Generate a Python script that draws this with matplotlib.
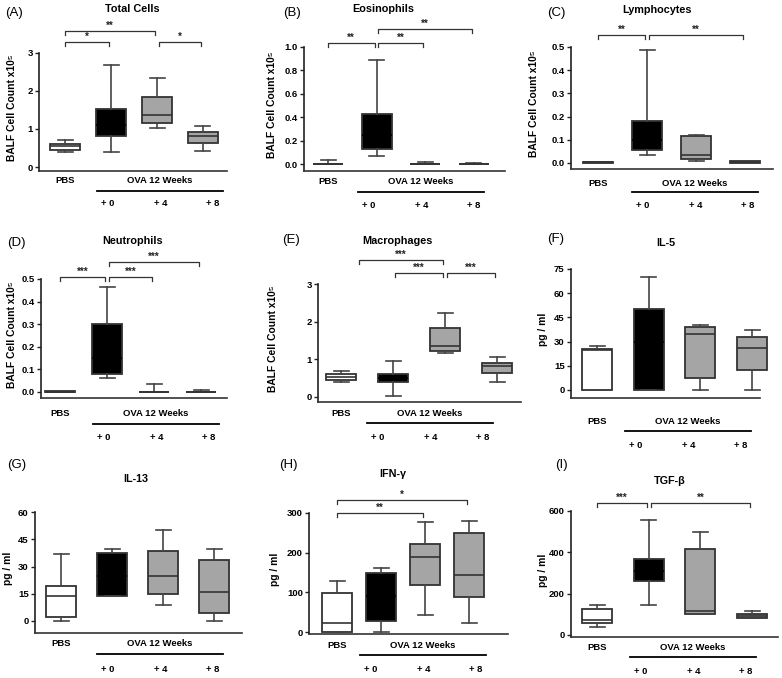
import matplotlib
matplotlib.use('Agg')
import matplotlib.pyplot as plt
from matplotlib.lines import Line2D
from matplotlib.transforms import blended_transform_factory

plt.rcParams['font.family'] = ['Liberation Sans', 'DejaVu Sans']

W, H = 782, 678

# ---------------- data ----------------
groups = ['PBS', '+ 0', '+ 4', '+ 8']
group_label = 'OVA 12 Weeks'
fills = ['white', 'black', '#a5a5a5', '#a5a5a5']

# each box: whislo, q1, median, q3, whishi
total_cells = [[0.40, 0.46, 0.54, 0.61, 0.70], [0.39, 0.81, 1.10, 1.53, 2.68],
               [1.02, 1.16, 1.36, 1.85, 2.34], [0.42, 0.64, 0.82, 0.92, 1.08]]
eosinophils = [[0, 0, 0, 0, 0.03], [0.07, 0.13, 0.25, 0.43, 0.89],
               [0, 0, 0, 0, 0.017], [0, 0, 0, 0, 0.008]]
lymphocytes = [[0.001, 0.002, 0.004, 0.006, 0.006], [0.033, 0.057, 0.10, 0.179, 0.489],
               [0.009, 0.017, 0.034, 0.117, 0.119], [0.001, 0.002, 0.004, 0.008, 0.009]]
neutrophils = [[0, 0, 0.001, 0.003, 0.004], [0.062, 0.081, 0.15, 0.30, 0.465],
               [0, 0, 0, 0, 0.037], [0, 0, 0, 0, 0.007]]
macrophages = [[0.39, 0.45, 0.53, 0.60, 0.68], [0.035, 0.41, 0.50, 0.60, 0.96],
               [1.16, 1.23, 1.36, 1.82, 2.24], [0.41, 0.63, 0.81, 0.91, 1.06]]
il5 = [[0, 0, 25, 25.5, 27], [0, 0, 30, 50, 70],
       [0, 7.7, 34.6, 39.3, 40.4], [0, 12.5, 26, 33, 37]]
il13 = [[0, 2, 13.8, 19, 37], [13.8, 13.8, 25, 37.6, 39.9],
        [9, 14.6, 24.9, 38.4, 50.2], [0, 4.4, 16, 33.4, 39.9]]
ifng = [[0, 0, 21.7, 99.4, 129.5], [0, 26.7, 90, 148.7, 161],
        [42.6, 117.8, 188.8, 223, 277], [23.4, 88.6, 142.9, 249, 279]]
tgfb = [[38.7, 56, 74, 124, 143.5], [147, 261, 310, 369, 556],
        [103, 103, 114.5, 414, 497], [84, 84, 93, 103, 114]]

# significance brackets: (group i, group j, level, stars)
sig_a = [(0, 1, 3.29, '*'), (0, 2, 3.58, '**'), (2, 3, 3.29, '*')]
sig_b = [(0, 1, 1.03, '**'), (1, 2, 1.03, '**'), (1, 3, 1.15, '**')]
sig_c = [(0, 1, 0.552, '**'), (1, 3, 0.552, '**')]
sig_d = [(0, 1, 0.509, '***'), (1, 2, 0.509, '***'), (1, 3, 0.575, '***')]
sig_e = [(0.3, 2, 3.64, '***'), (1, 2, 3.29, '***'), (2, 3, 3.29, '***')]
sig_h = [(0, 2, 300, '**'), (0, 3, 333, '*')]
sig_i = [(0, 1, 639, '***'), (1, 3, 639, '**')]

cell_label = 'BALF Cell Count x10\u2075'
cyto_label = 'pg / ml'

# layout (pixels): left, right, top px, top value, zero px, axis px, first box px, spacing px
panels = [
    dict(letter='(A)', lx=5, ly=13, title='Total Cells', tx=132, ty=9, ylabel=cell_label, ylx=12,
         data=total_cells, ticks=[0, 1, 2, 3], fmt='{:.0f}', sig=sig_a,
         geo=(39, 227, 53, 3, 167, 171, 65, 46), off=(10, 20, 33), line0=97),
    dict(letter='(B)', lx=283, ly=13, title='Eosinophils', tx=383, ty=9, ylabel=cell_label, ylx=272,
         data=eosinophils, ticks=[0, 0.2, 0.4, 0.6, 0.8, 1.0], fmt='{:.1f}', sig=sig_b,
         geo=(304, 505, 47, 1.0, 164, 171, 328, 48.5), off=(11, 21, 34), line0=358),
    dict(letter='(C)', lx=547, ly=13, title='Lymphocytes', tx=657, ty=10, ylabel=cell_label, ylx=534,
         data=lymphocytes, ticks=[0, 0.1, 0.2, 0.3, 0.4, 0.5], fmt='{:.1f}', sig=sig_c,
         geo=(571, 773, 47, 0.5, 163, 169, 598, 49), off=(14, 23, 36), line0=632),
    dict(letter='(D)', lx=7, ly=243, title='Neutrophils', tx=133, ty=241, ylabel=cell_label, ylx=12,
         data=neutrophils, ticks=[0, 0.1, 0.2, 0.3, 0.4, 0.5], fmt='{:.1f}', sig=sig_d,
         geo=(41, 227, 279, 0.5, 392, 398, 60, 47), off=(15, 26, 39), line0=93),
    dict(letter='(E)', lx=282, ly=240, title='Macrophages', tx=397, ty=241, ylabel=cell_label, ylx=273,
         data=macrophages, ticks=[0, 1, 2, 3], fmt='{:.0f}', sig=sig_e,
         geo=(318, 521, 284, 3, 397, 402, 341, 52), off=(11, 21, 35), line0=367),
    dict(letter='(F)', lx=547, ly=239, title='IL-5', tx=666, ty=243, ylabel=cyto_label, ylx=543,
         data=il5, ticks=[0, 15, 30, 45, 60, 75], fmt='{:.0f}', sig=[],
         geo=(571, 760, 269, 75, 390, 398, 597, 51.7), off=(24, 33, 47), line0=625),
    dict(letter='(G)', lx=7, ly=465, title='IL-13', tx=136, ty=479, ylabel=cyto_label, ylx=8,
         data=il13, ticks=[0, 15, 30, 45, 60], fmt='{:.0f}', sig=[],
         geo=(35, 242, 512, 60, 621, 633, 61, 51), off=(11, 21, 36), line0=97),
    dict(letter='(H)', lx=279, ly=465, title='IFN-\u03b3', tx=393, ty=474, ylabel=cyto_label, ylx=275,
         data=ifng, ticks=[0, 100, 200, 300], fmt='{:.0f}', sig=sig_h,
         geo=(309, 508, 513, 300, 632, 634, 337, 44), off=(11, 21, 35), line0=360),
    dict(letter='(I)', lx=555, ly=465, title='TGF-\u03b2', tx=670, ty=481, ylabel=cyto_label, ylx=543,
         data=tgfb, ticks=[0, 200, 400, 600], fmt='{:.0f}', sig=sig_i,
         geo=(571, 778, 511, 600, 635, 637, 597, 51.7), off=(10, 20, 34), line0=630),
]

fig = plt.figure(figsize=(W / 100, H / 100), dpi=100)
fig.patch.set_facecolor('white')


def fx(x):
    return x / W


def fy(y):
    return 1 - y / H


EDGE = '#333333'
for p in panels:
    left, right, top, topval, zero, axis, c0, s = p['geo']
    scale = (zero - top) / topval  # px per unit
    ybot = -(axis - zero) / scale
    ax = fig.add_axes([fx(left), fy(axis), (right - left) / W, (axis - top) / H])
    ax.set_xlim((left - c0) / s, (right - c0) / s)
    ax.set_ylim(ybot, topval)
    stats = []
    for g, (lo, q1, med, q3, hi) in zip(groups, p['data']):
        stats.append(dict(label=g, whislo=lo, q1=q1, med=med, q3=q3, whishi=hi, fliers=[]))
    res = ax.bxp(stats, positions=range(len(groups)), widths=30 / s, capwidths=15 / s,
                 patch_artist=True, showfliers=False,
                 boxprops=dict(edgecolor=EDGE, linewidth=1.3),
                 whiskerprops=dict(color='#444444', linewidth=1.2),
                 capprops=dict(color='#444444', linewidth=1.2),
                 medianprops=dict(color=EDGE, linewidth=1.2))
    for patch, c in zip(res['boxes'], fills):
        patch.set_facecolor(c)
    for med, c in zip(res['medians'], fills):
        if c == 'black':
            med.set_color('black')
    for key in ['boxes', 'medians', 'whiskers', 'caps']:
        for art in res[key]:
            art.set_clip_on(False)
    for sp in ['top', 'right']:
        ax.spines[sp].set_visible(False)
    ax.spines['left'].set_linewidth(1.2)
    ax.spines['bottom'].set_linewidth(1.2)
    ax.spines['left'].set_color('#222222')
    ax.spines['bottom'].set_color('#333333')
    ax.spines['left'].set_bounds(ybot, topval)
    ax.set_xticks([])
    ax.set_yticks(p['ticks'])
    ax.set_yticklabels([p['fmt'].format(t) for t in p['ticks']], fontsize=6.8, fontweight='bold')
    ax.tick_params(axis='y', length=3, width=1, pad=1.5, color='#222222')
    ax.patch.set_alpha(0)

    # brackets
    drop = 4 / scale
    for i, j, lev, txt in p['sig']:
        x1 = i + (0.04 if i > 0 else 0)
        x2 = j - 0.04
        ax.plot([x1, x1, x2, x2], [lev - drop, lev, lev, lev - drop], color='#333333',
                lw=0.9, clip_on=False)
        ax.text((x1 + x2) / 2, lev + 0.5 / scale, txt, ha='center', va='bottom',
                fontsize=7, fontweight='bold', color='#222222', clip_on=False)

    # labels below axis
    o1, o2, o3 = p['off']
    tr = blended_transform_factory(ax.transData, fig.transFigure)
    ax.text(0, fy(axis + o1), groups[0], transform=tr, ha='center', va='center',
            fontsize=6.8, fontweight='bold')
    l0 = p['line0']
    fig.text(fx(l0 + 63), fy(axis + o1), group_label, ha='center', va='center',
             fontsize=6.8, fontweight='bold')
    fig.add_artist(Line2D([fx(l0), fx(l0 + 126)], [fy(axis + o2)] * 2, color='black', lw=1.3))
    for k, g in enumerate(groups[1:]):
        fig.text(fx(l0 + 11 + 52.5 * k), fy(axis + o3), g, ha='center', va='center',
                 fontsize=6.8, fontweight='bold')

    # titles, letters, y labels
    fig.text(fx(p['lx']), fy(p['ly']), p['letter'], ha='left', va='center', fontsize=9.5)
    fig.text(fx(p['tx']), fy(p['ty']), p['title'], ha='center', va='center', fontsize=7.8,
             fontweight='bold')
    fig.text(fx(p['ylx']), fy((top + axis) / 2 - 4), p['ylabel'], rotation=90, ha='center',
             va='center', fontsize=7.4, fontweight='bold')

fig.savefig('out.png', dpi=100, facecolor='white')
